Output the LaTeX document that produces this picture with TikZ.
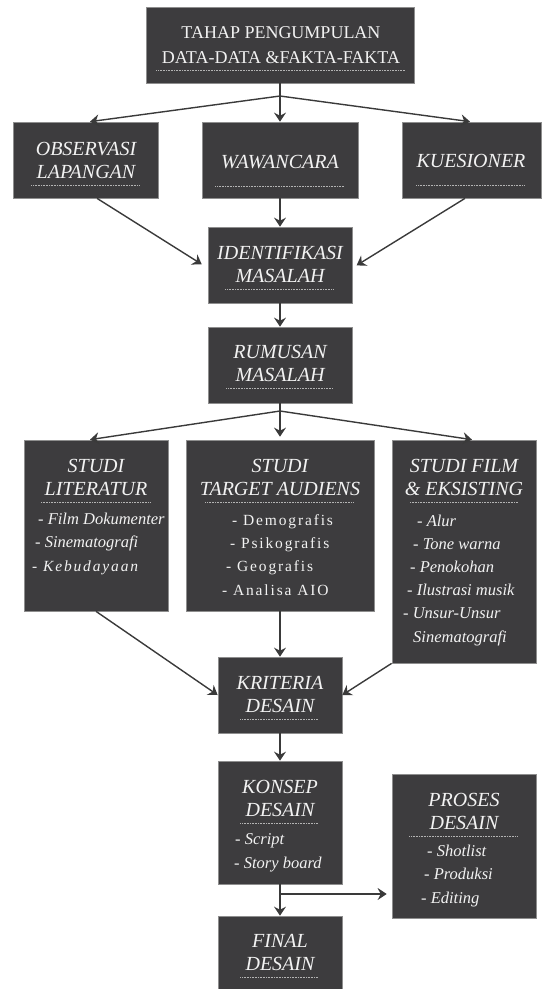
\documentclass[tikz,border=0pt]{standalone}
\usepackage{fontspec}
\setmainfont{Liberation Serif}
\newfontfamily\renggang[LetterSpace=12]{Liberation Serif}
\usetikzlibrary{arrows.meta}

\definecolor{kotakabu}{HTML}{3D3C3E}
\definecolor{tepiabu}{HTML}{8E8E8E}
\definecolor{tulisan}{HTML}{F2F2F2}
\definecolor{garisabu}{HTML}{3A3A3A}
\definecolor{titikabu}{HTML}{B4B4B4}

% garis titik di bawah judul kotak
\newcommand{\garis}[1]{\leavevmode\hbox to #1pt{\color{titikabu}\leaders\hbox to 1.6pt{\hss\rule{0.8pt}{0.5pt}\hss}\hfill}}
\newcommand{\tegak}{\fontsize{15.5}{23.2}\selectfont\renggang}

\tikzset{
  blok/.style 2 args={rectangle, fill=kotakabu, draw=tepiabu, line width=0.7pt, inner sep=0pt,
    minimum width=#1pt, minimum height=#2pt},
  judul/.style={text=tulisan, align=center, inner sep=0pt, anchor=base,
    font=\fontsize{20}{23}\selectfont\itshape},
  judulatas/.style={judul, font=\fontsize{18}{25}\selectfont},
  butir/.style={text=tulisan, align=left, inner sep=0pt, anchor=base west,
    font=\fontsize{16.5}{23.2}\selectfont\itshape},
  butirtegak/.style={butir, font=\tegak},
  hubung/.style={draw=garisabu, line width=1.4pt},
  panah/.style={-{Stealth[length=9pt,width=12pt,inset=3pt]}}
}

\begin{document}
\begin{tikzpicture}[x=1pt,y=1pt]
\useasboundingbox (0,0) rectangle (542,-989);

% kotak-kotak
\node[blok={268}{76}] (atas) at (280,-45) {};
\node[blok={145}{76}] (obs) at (85.5,-160) {};
\node[blok={156}{76}] (waw) at (280,-160) {};
\node[blok={139}{76}] (kue) at (471.5,-160) {};
\node[blok={144}{76}] (ident) at (280,-265) {};
\node[blok={144}{76}] (rumus) at (280,-365) {};
\node[blok={144}{171}] (lit) at (96,-525.5) {};
\node[blok={188}{171}] (target) at (280,-525.5) {};
\node[blok={144}{223}] (film) at (464,-551.5) {};
\node[blok={124}{76}] (krit) at (280,-695) {};
\node[blok={124}{123}] (konsep) at (280,-822.5) {};
\node[blok={144}{144}] (proses) at (464,-846) {};
\node[blok={124}{79}] (final) at (280,-955.5) {};

% judul (titik acuan = garis titik)
\node[judulatas] (atas-j) at (281,-70) {TAHAP PENGUMPULAN\\DATA-DATA \&FAKTA-FAKTA\\[-18pt]\garis{250}};
\node[judul] (obs-j) at (86,-185) {OBSERVASI\\LAPANGAN\\[-16pt]\garis{110}};
\node[judul] (waw-j) at (280,-186) {WAWANCARA\\[-5pt]\garis{130}};
\node[judul] (kue-j) at (471,-185) {KUESIONER\\[-5pt]\garis{110}};
\node[judul] (ident-j) at (280,-289) {IDENTIFIKASI\\MASALAH\\[-16pt]\garis{110}};
\node[judul] (rumus-j) at (280,-388) {RUMUSAN\\MASALAH\\[-16pt]\garis{108}};
\node[judul] (lit-j) at (96,-502) {STUDI\\LITERATUR\\[-16pt]\garis{111}};
\node[judul] (target-j) at (280,-502) {STUDI\\TARGET AUDIENS\\[-16pt]\garis{150}};
\node[judul] (film-j) at (464,-502) {STUDI FILM\\\& EKSISTING\\[-16pt]\garis{109}};
\node[judul] (krit-j) at (280,-719) {KRITERIA\\DESAIN\\[-16pt]\garis{80}};
\node[judul] (konsep-j) at (280,-823) {KONSEP\\DESAIN\\[-16pt]\garis{80}};
\node[judul] (proses-j) at (464,-836) {PROSES\\DESAIN\\[-16pt]\garis{110}};
\node[judul] (final-j) at (280,-977) {FINAL\\DESAIN\\[-16pt]\garis{80}};

% isi (titik acuan = baris terakhir)
\node[butir] (lit-b) at (32,-571) {\hspace*{6pt}- Film Dokumenter\\\hspace*{3pt}- Sinematografi\\{\tegak - Kebudayaan}};
\node[butirtegak] (target-b) at (222,-595) {\hspace*{10pt}- Demografis\\\hspace*{8pt}- Psikografis\\\hspace*{4pt}- Geografis\\- Analisa AIO};
\node[butir] (film-b) at (403,-642) {\hspace*{14pt}- Alur\\\hspace*{10pt}- Tone warna\\\hspace*{7pt}- Penokohan\\\hspace*{4pt}- Ilustrasi musik\\- Unsur-Unsur\\\hspace*{10pt}Sinematografi};
\node[butir] (konsep-b) at (234,-868) {\hspace*{1pt}- Script\\- Story board};
\node[butir] (proses-b) at (421,-903) {\hspace*{6pt}- Shotlist\\\hspace*{3pt}- Produksi\\- Editing};

% panah
\coordinate (cabang1) at (280,-96);
\draw[hubung] (atas) -- (cabang1);
\draw[hubung,panah] (cabang1) -- ([xshift=4.5pt]obs.north);
\draw[hubung,panah] (cabang1) -- (waw);
\draw[hubung,panah] (cabang1) -- ([xshift=-1.5pt]kue.north);
\draw[hubung,panah,shorten >=7pt] ([xshift=11.5pt]obs.south) -- ([yshift=-3pt]ident.west);
\draw[hubung,panah] (waw) -- (ident);
\draw[hubung,panah,shorten >=5pt] ([xshift=-6.5pt]kue.south) -- ([yshift=-3pt]ident.east);
\draw[hubung,panah] (ident) -- (rumus);
\coordinate (cabang2) at (280,-411);
\draw[hubung] (rumus) -- (cabang2);
\draw[hubung,panah] (cabang2) -- ([xshift=-6pt]lit.north);
\draw[hubung,panah,shorten >=3pt] (cabang2) -- (target);
\draw[hubung,panah] (cabang2) -- ([xshift=8pt]film.north);
\draw[hubung,panah] (lit.south) -- (krit.west);
\draw[hubung,panah] (target) -- (krit);
\draw[hubung,panah] (film.south west) -- (krit.east);
\draw[hubung,panah] (krit) -- (konsep);
\coordinate (cabang3) at (280,-894);
\draw[hubung] (konsep) -- (cabang3);
\draw[hubung,panah] (cabang3) -- (final);
\draw[hubung,panah,shorten >=5pt] (cabang3) -- (cabang3 -| proses.west);
\end{tikzpicture}
\end{document}
